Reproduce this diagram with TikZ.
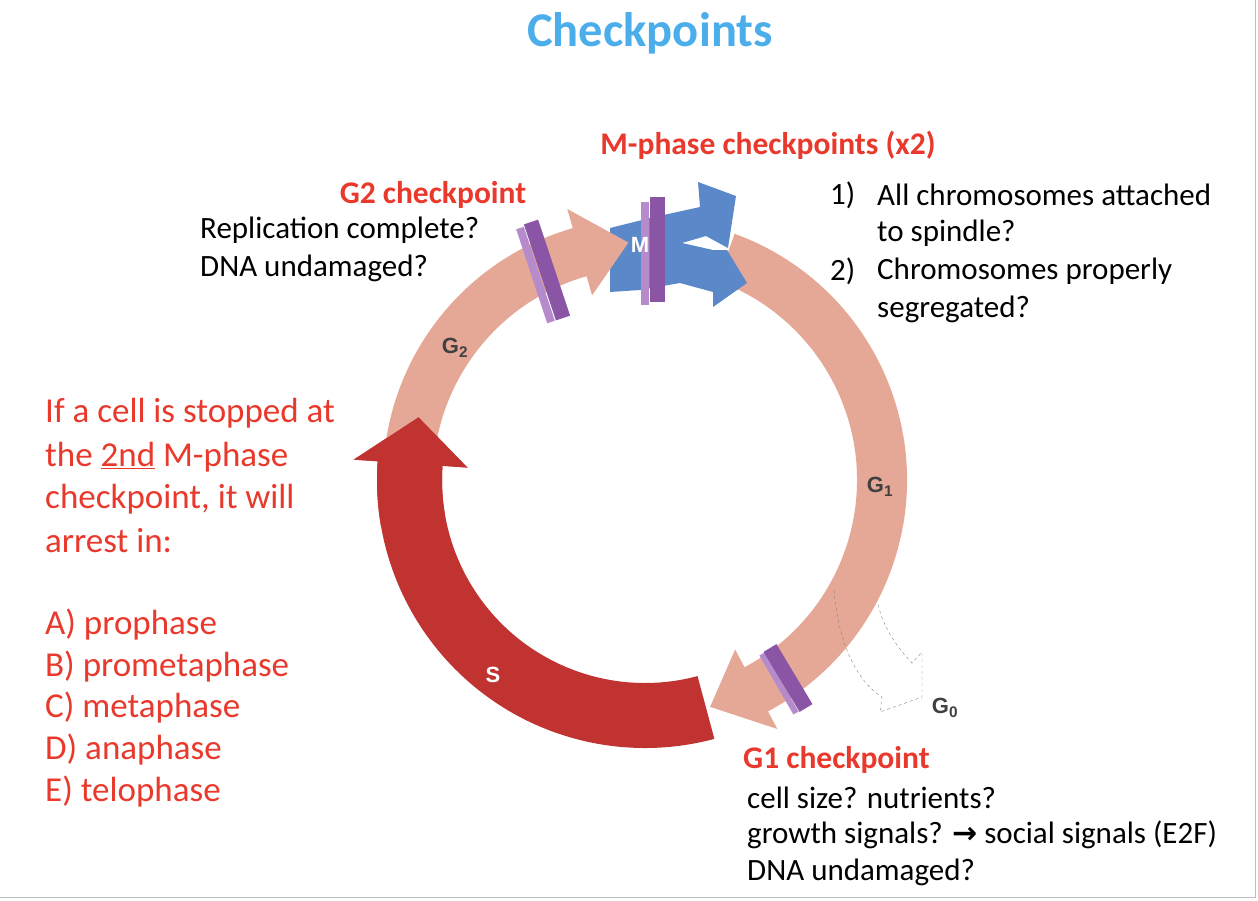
\documentclass[tikz,border=0pt]{standalone}
\usepackage{fontspec}
\setmainfont{Carlito}
\setsansfont{Liberation Sans}
\newfontfamily\dejavu{DejaVu Sans}
\definecolor{pinkc}{HTML}{E6A896}
\definecolor{redc}{HTML}{C03330}
\definecolor{bluec}{HTML}{5A88C8}
\definecolor{purp}{HTML}{8A55A5}
\definecolor{lpurp}{HTML}{B68BCC}
\definecolor{rtext}{HTML}{E8392C}
\definecolor{ttl}{HTML}{4BAEEA}
\begin{document}
\begin{tikzpicture}[x=1pt,y=1pt,
  body/.style={font=\fontsize{31}{36}\selectfont, anchor=west, inner sep=0pt},
  redq/.style={font=\fontsize{35}{40}\selectfont, anchor=west, inner sep=0pt, text=rtext},
  head/.style={font=\fontsize{31.5}{36}\selectfont\bfseries, inner sep=0pt, text=rtext},
  lab/.style={font=\sffamily\bfseries\fontsize{22}{25}\selectfont, inner sep=0pt, text=black!75},
  bar/.style={line width=15pt, purp}]
\useasboundingbox (0,0) rectangle (1258,-900);
\draw[black!25] (0,-897) -- (1255,-897) -- (1255,0);
\begin{scope}[shift={(645,-480)}]
% S arrow
\fill[redc] (-75:268) arc[start angle=-75,end angle=-184,radius=268] -- (-184:292) -- (-195.5:235) -- (-184:178) -- (-184:203) arc[start angle=-184,end angle=-75,radius=203] -- cycle;
% G1
\fill[pinkc] (70:262) arc[start angle=70,end angle=-62,radius=262] -- (-62:282) -- (-74:236) -- (-62:192) -- (-62:212) arc[start angle=-62,end angle=70,radius=212] -- cycle;
\end{scope}
% M blue
\fill[bluec] (610,-228) -- (650,-218) -- (700,-207) -- (698,-182) -- (736,-196) -- (728,-248) -- (706,-236) -- (682,-243) -- (713,-250) -- (727,-250) -- (747,-283) -- (713,-307) -- (713,-292) -- (680,-283) -- (640,-290) -- (610,-292) -- cycle;
\begin{scope}[shift={(645,-480)}]
% G2
\fill[pinkc] (172:262) arc[start angle=172,end angle=106,radius=262] -- (106:282) -- (94:238) -- (106:192) -- (106:212) arc[start angle=106,end angle=172,radius=212] -- cycle;
% S head redraw
\fill[redc] (-170:268) arc[start angle=-170,end angle=-184,radius=268] -- (-184:292) -- (-195.5:235) -- (-184:178) -- (-184:203) arc[start angle=-184,end angle=-170,radius=203] -- cycle;
\end{scope}
% bars
\draw[line width=8pt, lpurp] (520,-228) -- (551,-322);
\draw[bar] (531,-222) -- (563,-318);
\draw[line width=8pt, lpurp] (645,-202) -- (645,-305);
\draw[bar] (657,-197) -- (657,-302);
\draw[line width=6pt, lpurp] (762,-654) -- (796,-713);
\draw[bar] (770,-648) -- (806,-708);
% G0 dashed
\draw[dashed, gray] (834,-590) .. controls (838,-640) and (855,-680) .. (882,-697) -- (880,-712) -- (922,-697) -- (922,-652) -- (912,-663) .. controls (895,-645) and (882,-625) .. (878,-603);
% ring labels
\node[lab] (g2) at (455,-348) {G\textsubscript{2}};
\node[lab] (g1) at (880,-487) {G\textsubscript{1}};
\node[lab, text=white] (s) at (493,-675) {S};
\node[lab, text=white] (m) at (640,-245) {M};
\node[lab] (g0) at (945,-708) {G\textsubscript{0}};
% title
\node[font=\fontsize{48.5}{54}\selectfont\bfseries, text=ttl] (title) at (650,-33) {Checkpoints};
\node[head] (mh) at (768,-145) {M-phase checkpoints (x2)};
\node[head] (g2h) at (433,-195) {G2 checkpoint};
\node[body] (r1) at (200,-230) {Replication complete?};
\node[body] (r2) at (200,-268) {DNA undamaged?};
\node[body] (n1) at (830,-195) {1)};
\node[body] (t1) at (877,-195) {All chromosomes attached};
\node[body] (t2) at (877,-233) {to spindle?};
\node[body] (n2) at (830,-271) {2)};
\node[body] (t3) at (877,-271) {Chromosomes properly};
\node[body] (t4) at (877,-309) {segregated?};
\node[head, anchor=west] (g1h) at (743,-760) {G1 checkpoint};
\node[body] (c1) at (747,-798) {cell size? nutrients?};
\node[body] (c2) at (747,-835) {growth signals? {\dejavu\bfseries\fontsize{30}{34}\selectfont →} social signals (E2F)};
\node[body] (c3) at (747,-872) {DNA undamaged?};
\node[redq] (q1) at (45,-413) {If a cell is stopped at};
\node[redq] (q2) at (45,-457) {the \underline{2nd} M-phase};
\node[redq] (q3) at (45,-499) {checkpoint, it will};
\node[redq] (q4) at (45,-541) {arrest in:};
\node[redq] (a) at (45,-625) {A) prophase};
\node[redq] (b) at (45,-667) {B) prometaphase};
\node[redq] (c) at (45,-708) {C) metaphase};
\node[redq] (d) at (45,-750) {D) anaphase};
\node[redq] (e) at (45,-792) {E) telophase};
\end{tikzpicture}
\end{document}
